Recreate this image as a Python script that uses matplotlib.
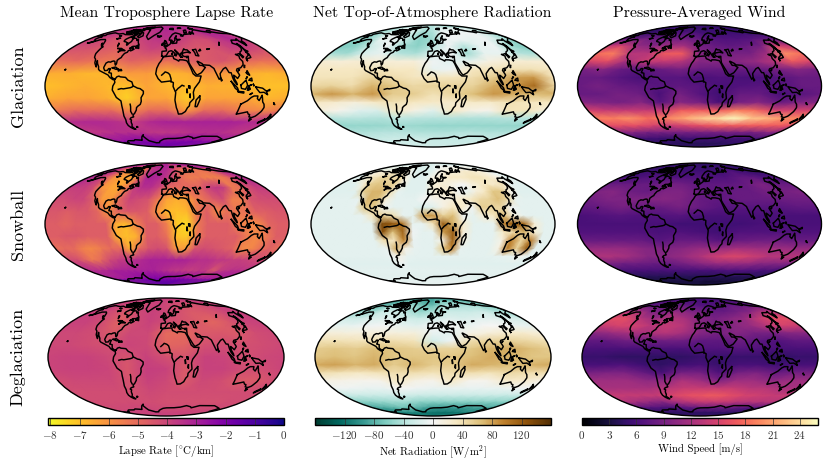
#!/usr/bin/env python3
"""Nine Mollweide panels: lapse rate, net radiation and wind for three climate states."""

import numpy as np
import matplotlib
matplotlib.use('Agg')
import matplotlib.pyplot as plt
from matplotlib.cm import ScalarMappable
from matplotlib.colors import Normalize

plt.rcParams['font.family'] = ['cmr10', 'DejaVu Serif']
plt.rcParams['mathtext.fontset'] = 'cm'
plt.rcParams['axes.unicode_minus'] = False

COL_TITLES = ['Mean Troposphere Lapse Rate', 'Net Top-of-Atmosphere Radiation', 'Pressure-Averaged Wind']
ROW_TITLES = ['Glaciation', 'Snowball', 'Deglaciation']
CBAR_LABELS = [r'Lapse Rate [$^{\circ}$C/km]', r'Net Radiation [W/m$^2$]', 'Wind Speed [m/s]']
LAPSE_TICKS = [-8, -7, -6, -5, -4, -3, -2, -1, 0]
NET_TICKS = [-120, -80, -40, 0, 40, 80, 120]
WIND_TICKS = [0, 3, 6, 9, 12, 15, 18, 21, 24]

# Fields: rows run north to south, columns west to east, evenly spaced over the globe
GLAC_LAPSE = [
    [-3.2]*13,
    [-3.6, -3.6, -3.8, -4.0, -3.6, -3.4, -3.2, -3.4, -3.6, -3.4, -3.0, -3.2, -3.6],
    [-3.8, -4.0, -4.4, -4.6, -4.0, -3.6, -3.5, -3.8, -4.2, -4.2, -3.6, -3.2, -3.8],
    [-4.4, -4.4, -4.6, -4.8, -4.4, -4.0, -4.2, -4.4, -4.6, -4.4, -4.0, -4.0, -4.4],
    [-5.2, -5.0, -5.2, -5.4, -4.8, -5.0, -5.2, -4.8, -4.6, -4.4, -5.0, -5.2, -5.2],
    [-6.6, -6.6, -6.8, -6.8, -6.2, -6.2, -6.8, -6.6, -6.0, -6.2, -6.6, -6.8, -6.6],
    [-7.0, -6.8, -6.6, -6.8, -7.0, -6.4, -6.8, -6.9, -6.6, -6.7, -6.9, -7.0, -7.0],
    [-6.6, -6.4, -6.4, -6.6, -7.3, -6.4, -6.4, -7.2, -6.4, -6.4, -6.4, -6.8, -6.6],
    [-5.4, -5.0, -5.0, -5.0, -5.8, -5.0, -5.0, -6.2, -5.0, -5.0, -5.6, -5.8, -5.4],
    [-3.4, -3.2, -3.2, -3.4, -3.8, -3.2, -3.0, -3.0, -3.0, -3.0, -3.0, -3.2, -3.4],
    [-3.6, -3.6, -3.4, -3.4, -3.4, -3.6, -3.6, -3.6, -3.4, -3.4, -3.4, -3.6, -3.6],
    [-2.6, -2.6, -2.4, -2.2, -2.2, -2.4, -2.2, -2.2, -2.2, -2.2, -2.4, -2.6, -2.6],
    [-1.4]*13,
]
SNOW_LAPSE = [
    [-3.0]*25,
    [-3.2, -3.4, -4.2, -5.0, -5.5, -6.0, -6.0, -5.5, -4.0, -3.6, -3.4, -3.2, -3.2, -3.6, -4.5, -5.0, -5.0, -5.0, -5.2, -5.2, -5.0, -4.6, -4.0, -3.5, -3.2],
    [-3.0, -3.4, -3.8, -4.8, -6.0, -6.3, -6.5, -6.2, -4.5, -3.0, -3.0, -3.2, -3.6, -4.5, -5.0, -5.4, -5.5, -5.4, -5.6, -5.6, -5.5, -5.2, -4.2, -3.6, -3.0],
    [-3.8, -3.8, -3.8, -4.2, -6.0, -6.4, -6.5, -5.5, -3.8, -3.4, -3.4, -4.0, -5.0, -5.0, -5.0, -4.8, -4.8, -4.0, -3.6, -3.8, -5.4, -5.2, -4.2, -3.8, -3.8],
    [-4.2, -4.2, -4.0, -4.0, -4.6, -6.2, -6.2, -4.8, -4.0, -4.2, -4.4, -5.4, -6.4, -6.6, -6.4, -5.6, -5.2, -4.6, -4.2, -5.6, -5.6, -4.4, -4.2, -4.2, -4.2],
    [-4.5, -4.5, -4.7, -4.5, -4.5, -4.9, -6.0, -4.9, -4.5, -4.5, -4.7, -6.0, -6.8, -7.0, -6.8, -5.4, -4.7, -5.8, -5.2, -5.4, -5.2, -4.7, -4.7, -4.5, -4.5],
    [-4.7, -4.7, -4.9, -4.7, -4.7, -4.7, -4.7, -6.6, -6.8, -5.6, -4.7, -4.7, -5.6, -7.2, -7.5, -5.4, -4.7, -4.7, -4.7, -5.6, -5.8, -5.8, -4.9, -4.7, -4.7],
    [-4.7, -4.7, -4.5, -4.5, -4.7, -4.7, -4.7, -6.6, -7.0, -6.6, -4.7, -4.7, -5.2, -7.0, -7.2, -5.4, -4.7, -4.7, -4.7, -4.7, -5.4, -5.8, -5.4, -4.7, -4.7],
    [-5.2, -5.0, -5.0, -5.6, -5.8, -5.4, -5.0, -5.0, -6.6, -5.0, -4.4, -4.2, -4.4, -6.2, -6.2, -4.4, -4.2, -4.4, -4.6, -4.8, -5.8, -5.8, -5.2, -4.8, -5.2],
    [-4.2, -4.2, -4.8, -5.4, -5.0, -4.2, -3.8, -3.6, -3.4, -3.2, -3.0, -3.0, -3.0, -3.0, -3.0, -3.2, -3.4, -3.4, -3.6, -3.6, -3.8, -3.8, -4.0, -4.2, -4.2],
    [-3.4, -3.4, -3.4, -3.2, -3.0, -3.0, -3.0, -3.0, -3.0, -3.0, -3.0, -3.2, -3.4, -3.6, -3.6, -3.8, -3.8, -3.6, -3.8, -4.6, -3.8, -3.6, -3.4, -3.4, -3.4],
    [-2.8, -2.8, -2.8, -2.8, -2.6, -2.6, -2.4, -2.2, -2.2, -2.0, -2.0, -2.0, -2.0, -2.0, -2.0, -2.0, -2.2, -2.4, -2.4, -2.6, -2.6, -2.8, -2.8, -2.8, -2.8],
    [-1.0]*25,
]
DEGL_LAPSE = [
    [-3.8]*13,
    [-3.9, -4.0, -4.1, -4.3, -4.0, -3.9, -4.1, -4.2, -4.3, -4.3, -4.2, -4.0, -3.9],
    [-3.8, -4.0, -4.3, -4.6, -4.1, -3.9, -4.1, -4.3, -4.6, -4.5, -4.3, -3.9, -3.8],
    [-3.9, -3.9, -4.2, -4.8, -4.2, -3.9, -4.2, -4.4, -4.6, -4.9, -4.5, -4.0, -3.9],
    [-4.1, -4.1, -4.2, -4.6, -4.1, -4.1, -5.0, -5.0, -4.6, -4.5, -4.6, -4.2, -4.1],
    [-4.1, -4.1, -4.2, -4.3, -4.0, -4.1, -4.9, -4.8, -4.3, -4.2, -4.3, -4.2, -4.1],
    [-4.0, -3.9, -3.9, -4.1, -4.4, -3.9, -4.3, -4.4, -3.9, -4.0, -4.3, -4.1, -4.0],
    [-4.0, -3.9, -3.9, -4.0, -4.5, -3.8, -3.9, -4.6, -3.9, -3.9, -4.2, -4.2, -4.0],
    [-4.2, -4.1, -4.1, -4.1, -4.4, -3.9, -4.1, -4.6, -4.1, -4.2, -4.6, -4.6, -4.2],
    [-4.2, -4.2, -4.2, -4.2, -4.3, -4.1, -4.2, -4.2, -4.2, -4.2, -4.2, -4.2, -4.2],
    [-4.2, -4.2, -4.2, -4.2, -4.2, -4.2, -4.3, -4.3, -4.3, -4.3, -4.3, -4.2, -4.2],
    [-4.2, -4.1, -4.1, -4.0, -4.0, -4.1, -4.1, -4.1, -4.1, -4.1, -4.1, -4.1, -4.2],
    [-3.8]*13,
]
GLAC_NET = [
    [-45]*13,
    [-45, -40, -15, -10, -25, -40, -40, -15, -15, -15, -15, -25, -45],
    [-50, -45, -10, -5, -30, -55, -45, -5, -5, -5, -5, -20, -50],
    [-60, -60, -10, -5, -35, -60, -50, -5, -5, -10, -5, -30, -60],
    [-65, -60, -30, -5, -50, -60, -40, -5, -40, -10, -5, -50, -65],
    [-45, -50, -20, -10, -40, -45, -20, -5, -50, -10, -10, -40, -45],
    [22, 18, 22, 18, 18, 18, -5, -15, -10, 12, 22, 22, 22],
    [32, 32, 32, 35, 32, 32, -10, -5, 32, 35, 38, 38, 32],
    [36, 36, 36, 50, 42, 34, 34, 34, 42, 55, 80, 85, 36],
    [45, 50, 42, 70, 60, 45, 50, 50, 50, 75, 85, 110, 45],
    [70, 85, 70, 85, 55, 55, 38, 48, 65, 85, 75, 65, 70],
    [32, 24, 15, 28, 38, 32, 28, 25, 28, 28, 38, 32, 32],
    [15, 5, -15, -20, 30, 10, -15, 30, 10, 5, 35, 35, 15],
    [-40, -38, -40, -42, -35, -38, -40, -40, -42, -42, -40, -40, -40],
    [-55, -55, -55, -52, -50, -52, -55, -55, -55, -55, -55, -55, -55],
    [-42, -42, -40, -38, -40, -42, -42, -42, -40, -40, -42, -42, -42],
    [-32, -32, -30, -30, -30, -30, -32, -32, -32, -32, -32, -32, -32],
    [-28, -28, -26, -26, -26, -26, -30, -30, -30, -28, -28, -28, -28],
    [-26]*13,
]
SNOW_NET = [
    [-18]*25,
    [-18, -18, -18, -18, -15, -10, -10, -15, -20, -20, -20, -18, -15, -10, -5, -5, -5, -5, -5, -5, -5, -5, -8, -12, -18],
    [-15, 10, 20, 15, 15, 25, 25, 20, -10, -15, -18, -18, -15, 5, 15, 15, 15, 20, 25, 25, 20, 20, 10, -5, -15],
    [-15, -12, 25, 35, 45, 50, 40, 50, 10, -15, -15, -12, 10, 20, 25, 30, 30, 30, 35, 35, 30, 20, 10, -10, -15],
    [-15, -15, -15, 20, 55, 60, 55, 50, 15, -15, -15, -15, 20, 20, 15, 5, 0, 15, 25, 30, 25, 40, -10, -15, -15],
    [-15, -15, -15, -15, 55, 70, 70, 40, -10, -15, -15, -12, 15, 25, 25, -5, -10, 15, 30, 60, 60, 10, -15, -15, -15],
    [-12, -12, -12, -12, -10, 70, 65, 15, -12, -12, -12, 0, 5, 10, 15, 25, 30, 45, 50, 65, 45, -10, -12, -12, -12],
    [-12, -12, -12, -12, -10, 60, 55, -5, -12, -12, -12, -20, -15, 10, 30, 25, -5, 55, 50, 45, -5, -12, -12, -12, -12],
    [-12, -12, -12, -12, -12, -10, 35, 50, 40, -10, -12, 80, 85, 50, 65, -5, -12, 20, 30, 65, 15, -10, -12, -12, -12],
    [-12, -12, -12, -12, -12, -12, -12, 135, 125, 105, -10, -10, 35, 120, 70, 25, -12, -12, -10, 100, 125, 110, 20, -12, -12],
    [-12, -12, -12, -12, -12, -12, -12, 130, 60, 115, -5, -12, -10, 80, 120, 20, -12, -12, -12, 30, 45, 70, 25, -12, -12],
    [-12, -12, -12, -12, -12, -12, -12, 40, 30, 95, -8, -12, -12, 10, 115, 15, -12, -12, -12, 10, 95, 45, 100, -12, -12],
    [-12, -12, -12, -12, -12, -12, -12, -8, 75, 10, -10, -12, -12, 55, 95, -10, -12, -12, -12, 10, 100, 50, 120, -12, -12],
    [-12, -12, -12, -12, -12, -12, -12, -8, 10, -10, -12, -12, -12, -12, -12, -12, -12, -12, -12, -12, -10, -10, 5, -12, -12],
    [-14, -14, -14, -14, -14, -14, -14, -14, -5, -14, -14, -14, -14, -14, -14, -14, -14, -14, -14, -14, -14, -14, -14, -14, -14],
    [-12]*25,
    [-13]*25,
    [-10]*25,
    [-12]*25,
]
DEGL_NET = [
    [-90]*13,
    [-85, -88, -80, -75, -80, -90, -90, -70, -70, -70, -72, -80, -85],
    [-65, -68, -45, -40, -50, -70, -70, -45, -40, -42, -42, -55, -65],
    [-50, -50, -30, -25, -40, -55, -45, -30, -30, -30, -25, -40, -50],
    [-25, -28, -18, -15, -22, -30, -22, -15, -20, -15, -12, -20, -25],
    [-10, -10, -5, -2, -10, -15, -5, 0, -10, 0, 0, -8, -10],
    [18, 15, 15, 15, 15, 15, -8, -15, 8, 15, 25, 25, 18],
    [38, 38, 35, 40, 40, 35, -25, -5, 40, 50, 50, 45, 38],
    [55, 60, 55, 65, 60, 55, 50, 50, 60, 70, 75, 65, 55],
    [60, 65, 60, 70, 60, 60, 60, 60, 65, 75, 70, 60, 60],
    [75, 80, 70, 75, 55, 70, 55, 55, 75, 70, 65, 70, 75],
    [40, 35, 30, 35, 40, 40, 35, 40, 40, 35, 45, 40, 40],
    [10, 8, 5, 5, 30, 10, 5, 30, 5, 5, 25, 25, 10],
    [-5, -5, -8, -8, 0, -5, -8, -8, -8, -8, -8, -5, -5],
    [-32, -30, -30, -28, -25, -30, -30, -30, -30, -30, -30, -32, -32],
    [-60, -58, -55, -50, -50, -58, -60, -60, -60, -60, -60, -60, -60],
    [-90, -85, -80, -70, -75, -85, -95, -95, -95, -95, -90, -90, -90],
    [-110, -110, -105, -105, -110, -115, -118, -120, -120, -118, -115, -110, -110],
    [-120]*13,
]
GLAC_WIND = [
    [5]*13,
    [4.5, 4.5, 5, 5.5, 5, 4.5, 5, 5, 5, 5, 5, 4.5, 4.5],
    [5, 5, 6, 7, 6.5, 7, 6, 5.5, 5.5, 5.5, 5.5, 5, 5],
    [8, 9, 9, 8, 9, 9, 8, 7, 6.5, 6.5, 7, 8, 8],
    [14, 15, 11, 10, 12, 12, 9, 8, 7.5, 8, 9, 15, 14],
    [18, 19, 13, 13, 17, 17, 10, 8.5, 9, 9, 12, 20, 18],
    [15, 16, 12, 14, 14, 13, 10, 10, 10, 11, 13, 17, 15],
    [9, 10, 8, 7, 8, 9, 8, 8, 8, 8, 9, 10, 9],
    [8, 8, 7, 6, 7, 7, 6, 6.5, 6, 6, 7, 8, 8],
    [8, 9, 8, 7.5, 7, 7.5, 7, 6, 6.5, 7, 6.5, 8, 8],
    [8, 8, 9, 8.5, 6, 9, 7, 5.5, 8, 8, 6, 7, 8],
    [10, 9.5, 9, 10, 7, 10, 9, 6, 9, 10, 8, 9.5, 10],
    [15, 14, 14, 14, 14, 17, 17, 17, 19, 18, 15, 15, 15],
    [19, 19, 20, 18, 19, 21, 23, 24, 26, 23, 22, 20, 19],
    [16, 16, 16, 15, 14, 15, 16, 17, 17, 17, 17, 17, 16],
    [10, 10, 9, 9, 9, 9, 9, 9, 9, 9, 9, 10, 10],
    [5.5, 5.5, 5.5, 5, 5, 5.5, 5.5, 5.5, 5.5, 5.5, 5.5, 5.5, 5.5],
    [4.5, 4.5, 4.5, 4, 4, 4, 4, 4, 4, 4, 4.5, 4.5, 4.5],
    [4.5]*13,
]
SNOW_WIND = [
    [4.5]*13,
    [4.5, 4.5, 5, 5, 5, 5, 5, 4.5, 5, 5, 5, 4.5, 4.5],
    [5, 5.5, 5.5, 5.5, 5.5, 5.5, 5.5, 5.5, 5.5, 6.5, 5.5, 5, 5],
    [6, 6, 6.5, 6.5, 6.5, 6.5, 6.5, 6.5, 6.5, 7.5, 7.5, 6.5, 6],
    [8, 8, 8, 8, 9, 8.5, 7.5, 7.5, 7.5, 8, 9.5, 8, 8],
    [9.5, 10, 8.5, 8, 9.5, 9.5, 8, 7.5, 8, 8, 9, 9, 9.5],
    [8.5, 9.5, 9.5, 9.5, 10, 9.5, 8, 7.5, 8, 8, 8, 8.5, 8.5],
    [7.5, 8, 9, 8, 8, 9, 8, 7, 7, 7, 7, 7.5, 7.5],
    [6, 6.5, 7, 6.5, 6.5, 7, 6, 6, 6, 6, 6, 6, 6],
    [6, 6, 6, 6, 6, 5.5, 5.5, 5.5, 5.5, 6, 6, 6, 6],
    [6.5, 6.5, 6.5, 6.5, 6, 6.5, 6, 5.5, 6.5, 6.5, 6.5, 6.5, 6.5],
    [8, 8, 8, 8, 7, 8, 8, 7, 8, 8.5, 8.5, 8, 8],
    [11, 11, 11, 10, 9.5, 10, 11, 11, 12, 11.5, 11.5, 11, 11],
    [12.5, 12.5, 11.5, 10, 10, 11, 12.5, 14.5, 15.5, 14.5, 13, 13, 12.5],
    [9.5, 8.5, 8.5, 8, 8, 9, 10, 11, 11, 11, 10, 10, 9.5],
    [6, 6, 6, 6, 6, 6, 6, 6, 6.5, 6.5, 6.5, 6, 6],
    [4, 4, 4, 4, 4, 4, 4, 4, 4, 4, 4, 4, 4],
    [3, 3, 3, 3, 3, 3, 3, 2.5, 2.5, 2.5, 2.5, 3, 3],
    [3]*13,
]
DEGL_WIND = [
    [6]*13,
    [6, 6, 6.5, 6.5, 6, 6, 6, 6, 6, 6, 6, 6, 6],
    [8, 8, 8, 8, 8.5, 7.5, 7, 6.5, 7, 8, 8, 8, 8],
    [13, 13, 10, 9, 11, 10, 9, 8, 8, 9, 10, 13, 13],
    [16, 16, 13, 11, 13, 12, 10, 9, 10, 11, 14, 16, 16],
    [14, 15, 15, 13, 14, 13, 10, 9, 10, 11, 13, 15, 14],
    [10, 11, 12, 12, 13, 12, 10, 9, 10, 9, 9, 10, 10],
    [7.5, 7.5, 8.5, 8.5, 8.5, 8.5, 7.5, 7.5, 8.5, 7.5, 6.5, 7.5, 7.5],
    [6, 6, 6, 6, 6, 6, 6.5, 6.5, 7, 6.5, 6, 6, 6],
    [5, 5, 4.5, 4.5, 4.5, 4.5, 5, 5, 5, 5, 4.5, 5, 5],
    [6, 6, 6.5, 5.5, 4.5, 5.5, 6, 5, 6, 6, 5.5, 6, 6],
    [9, 9.5, 9.5, 8, 6, 9, 9, 6.5, 9, 9.5, 8, 9, 9],
    [11.5, 11.5, 11.5, 10.5, 10.5, 12.5, 11.5, 9.5, 11.5, 11.5, 10.5, 11.5, 11.5],
    [12, 12, 12, 12, 13, 14, 14, 14, 14, 13, 13, 12, 12],
    [14, 14, 14, 14, 15, 16, 16.5, 17, 16, 15, 14.5, 14, 14],
    [13, 12, 11, 10, 12, 13, 14, 14, 14, 13, 13, 13, 13],
    [7, 7, 6.5, 6, 7, 7.5, 8, 8, 8, 8, 7.5, 7, 7],
    [4.5, 4.5, 4.5, 4.5, 4.5, 4.5, 4.5, 4.5, 4.5, 4.5, 4.5, 4.5, 4.5],
    [4.5]*13,
]

# Coastlines as (lon, lat) in degrees
COAST_NAMERICA = [(-168, 65.7), (-164, 66.5), (-161, 66.3), (-163, 67), (-166, 68.5), (-162, 70), (-156, 71.2), (-150, 70.5), (-141, 69.7), (-135, 69), (-128, 70), (-124, 69.5), (-115, 68), (-108, 67.8), (-102, 67.8), (-96, 68), (-94, 72), (-91, 69.5), (-88, 68), (-85, 69.5), (-82, 69), (-81, 67), (-86, 66.2), (-87, 65), (-90, 63.8), (-94, 61), (-94.5, 58.8), (-92.5, 57), (-88, 56.5), (-85, 55.5), (-82, 55), (-82, 53), (-80, 51.5), (-79, 52), (-79, 54), (-77, 56), (-76.5, 57.5), (-78, 59), (-77.5, 60.5), (-78, 62), (-73, 62), (-70, 61), (-67, 58.5), (-65, 60), (-62, 57), (-60, 55), (-56, 52.5), (-60, 50), (-66, 50), (-70, 47), (-65, 49), (-65, 47), (-61, 46), (-63, 44.7), (-66, 43.7), (-66, 45), (-67, 45), (-70, 44), (-70, 42), (-74, 40.5), (-75.5, 38), (-76, 37), (-76, 35), (-78, 34), (-81, 31.5), (-80, 27), (-81, 25.2), (-82.5, 27), (-83, 28.5), (-84, 30), (-86, 30.5), (-89, 30), (-90, 29), (-94, 29.5), (-97, 28), (-97.5, 25), (-98, 22), (-95, 18.5), (-91, 18.7), (-90, 21), (-87, 21), (-88, 16), (-84, 15.5), (-83, 11), (-80, 9), (-77, 8.5), (-78, 7.5), (-80, 7.5), (-85, 10), (-88, 13), (-92, 14.5), (-96, 16), (-102, 18), (-105, 20), (-106, 23), (-110, 27), (-113, 31), (-112, 28), (-110, 23), (-112, 25), (-115, 28), (-117, 32.5), (-121, 35), (-124, 40), (-124, 48), (-123, 49), (-128, 51), (-130, 54), (-135, 58), (-140, 60), (-145, 60), (-150, 60), (-152, 59), (-158, 56), (-165, 54.5), (-160, 56), (-158, 58), (-162, 59), (-165, 61), (-165, 63), (-161, 64), (-165, 64.5), (-168, 65.7)]
COAST_SAMERICA = [(-77, 8.5), (-75, 11), (-72, 12), (-70, 11), (-62, 10.5), (-58, 7), (-52, 5), (-50, 0), (-47, -1), (-44, -2.5), (-40, -3), (-35, -6), (-35, -9), (-39, -14), (-39, -18), (-41, -22), (-45, -24), (-48, -26), (-49, -29), (-54, -34), (-57, -35), (-57, -38), (-62, -39), (-65, -41), (-63, -42), (-65, -44), (-66, -46), (-66, -48), (-69, -51), (-68, -53), (-65, -55), (-68, -55), (-72, -53), (-75, -50), (-75, -46), (-73, -42), (-73, -37), (-71, -30), (-70, -18), (-76, -14), (-78, -10), (-81, -5), (-80, 0), (-77, 4), (-78, 7), (-77, 8.5)]
COAST_AFRICA = [(-6, 35.8), (1, 36.5), (10, 37), (11, 33.5), (15, 32.3), (19, 30.3), (20, 32), (25, 32), (32, 31), (34, 28), (37, 21), (39, 15), (43, 12), (51, 12), (48, 5), (41, -2), (39, -7), (40.5, -15), (35, -20), (35, -24), (32.5, -26), (30, -31), (25, -34), (19, -34.5), (17, -30), (15, -27), (12, -17), (13, -8), (9, -1), (9.5, 4), (5, 6), (-4, 5), (-8, 4.5), (-13, 8.5), (-17, 14.5), (-16, 21), (-13, 27), (-10, 30), (-6, 35.8)]
COAST_EURASIA = [(-9, 37), (-9, 43), (-1, 43.5), (-1, 46), (-4, 48), (2, 51), (8, 54), (8, 57), (10.5, 57), (11, 54), (20, 54.5), (21, 57), (23, 59), (30, 60), (22, 60), (21, 63), (24, 66), (18, 62), (18, 59), (13, 55.5), (11, 59), (5, 59), (6, 62), (14, 68), (20, 70), (25, 71), (32, 70), (40, 67.5), (35, 66), (40, 65), (45, 68), (54, 68.5), (60, 69), (68, 69), (68, 72), (72, 73), (75, 69), (80, 73), (88, 75), (100, 77), (113, 74), (125, 73), (130, 71), (140, 73), (150, 71), (160, 70), (170, 70), (180, 69), (180, 65), (178, 62), (170, 60), (163, 58), (162, 55), (157, 51), (156, 57), (160, 61), (155, 59), (143, 59), (135, 54.5), (141, 52), (140, 48), (135, 44), (130, 42.5), (127, 39.5), (129, 36), (126, 34.5), (126, 37), (125, 40), (121, 39), (118, 39), (122, 37), (120, 34), (122, 30), (120, 26), (114, 22), (108, 21), (106, 19), (109, 13), (105, 9), (103, 11), (100, 13), (100, 9), (103, 4), (103.5, 1.5), (100, 5), (98, 9), (97, 16), (94, 16), (91, 22.5), (87, 21), (80, 15), (80, 10), (77.5, 8), (73, 18), (72.5, 21), (67, 25), (57, 25.5), (56, 27), (50, 30), (48.5, 30), (51, 25), (55, 25), (56.5, 24), (59.5, 22.5), (52, 16), (45, 13), (43, 15), (39, 21), (35, 28), (35, 32), (36, 36.5), (30, 36), (27, 37), (26, 40), (29, 41), (35, 42), (41, 41), (37, 45), (33, 45), (31, 46.5), (28, 43), (26, 41), (23, 40), (24, 38), (22, 36.5), (19.5, 41), (14, 45), (18, 40), (16, 38), (12, 42), (8, 44), (3, 43), (0, 39), (-2, 37), (-6, 36), (-9, 37)]
COAST_AUSTRALIA = [(114, -22), (118, -20), (122, -18), (126, -14), (130, -12), (136, -12), (136, -15), (140, -17.5), (142, -11), (146, -19), (150, -22), (153, -26), (153, -31), (150, -37), (146, -39), (140, -38), (138, -35), (135, -34.5), (131, -31.5), (124, -33), (115, -34.5), (114, -26), (114, -22)]
COAST_ANTARCTICA = [(-180, -78), (-160, -79), (-150, -77), (-130, -74), (-110, -74), (-100, -72), (-80, -73), (-75, -71), (-65, -66), (-58, -63.5), (-62, -66), (-61, -70), (-60, -74), (-45, -78), (-30, -78), (-25, -75), (-10, -71), (0, -70), (20, -70), (40, -69), (55, -66), (70, -68), (75, -70), (90, -66), (110, -66), (130, -66), (150, -69), (165, -71), (170, -77), (180, -78)]
COAST_ISLANDS = [
    [(-180, 69), (-170, 66), (-175, 65), (-180, 65)],
    [(-73, 78), (-60, 82), (-32, 83.5), (-18, 80), (-22, 72), (-32, 68), (-43, 60), (-52, 65), (-54, 70), (-60, 76), (-73, 78)],
    [(-80, 73), (-70, 71), (-62, 66), (-68, 62.5), (-75, 65), (-72, 68), (-85, 70), (-89, 73), (-80, 73)],
    [(-117, 70), (-105, 69), (-101, 72), (-115, 73), (-117, 70)],
    [(-90, 77), (-76, 78), (-62, 82.5), (-80, 83), (-95, 81), (-90, 77)],
    [(-125, 72), (-118, 72), (-118, 75), (-125, 74), (-125, 72)],
    [(-95, 75), (-80, 75), (-82, 76.5), (-95, 76.5), (-95, 75)],
    [(-87, 63.5), (-80, 64), (-85, 66), (-87, 63.5)],
    [(-95, 72), (-91, 74), (-95, 74), (-95, 72)],
    [(-117, 75.5), (-106, 75), (-108, 77), (-117, 75.5)],
    [(-102, 72), (-97, 71), (-97, 74), (-102, 73), (-102, 72)],
    [(-94, 78), (-88, 78), (-88, 81), (-95, 81), (-94, 78)],
    [(-105, 76), (-100, 75.5), (-99, 77), (-105, 76)],
    [(-122, 76), (-116, 76), (-118, 77.5), (-122, 76)],
    [(-82, 62.5), (-79, 62.5), (-81, 64), (-82, 62.5)],
    [(-78, 69.5), (-74, 69), (-76, 72), (-78, 69.5)],
    [(-133, 54), (-131, 53), (-132, 52.5), (-133, 54)],
    [(-128, 50.5), (-124, 49), (-125, 50.3), (-128, 50.5)],
    [(-59, 48), (-53, 47), (-56, 51.5), (-59, 48)],
    [(-84.5, 22), (-80, 23), (-74, 20), (-78, 20), (-84.5, 22)],
    [(-74, 18.5), (-69, 18.5), (-70, 20), (-74, 19.8), (-74, 18.5)],
    [(-5, 50), (1, 51), (0, 54), (-2, 57.5), (-5, 58.5), (-6, 56), (-3, 54), (-5, 52), (-5, 50)],
    [(-10, 52), (-6, 52), (-6, 55), (-10, 54), (-10, 52)],
    [(-24, 65.5), (-14, 65.5), (-18, 63.5), (-23, 64), (-24, 65.5)],
    [(12, 78), (24, 77), (28, 80), (15, 80), (12, 78)],
    [(52, 71), (57, 70.5), (68, 76.5), (58, 75.5), (52, 71)],
    [(48, 80), (62, 80), (60, 81.5), (48, 80)],
    [(95, 79), (105, 78.5), (100, 81), (95, 79)],
    [(138, 75), (150, 75), (145, 76), (138, 75)],
    [(179, 71), (-178, 71), (179, 71.5)],
    [(142, 46), (143.5, 50), (143, 54), (142, 52), (142, 46)],
    [(130.5, 31), (131.5, 33.5), (136, 34), (140, 35), (142, 40), (140.5, 41), (139, 38), (133, 35.5), (130.5, 33.5), (130.5, 31)],
    [(140, 42), (145, 43), (142, 45.5), (140, 42)],
    [(120, 22.5), (122, 25), (120.5, 25), (120, 22.5)],
    [(109, 18.5), (111, 19.5), (110, 20), (109, 18.5)],
    [(120, 16), (122, 18.5), (124, 13), (121, 14), (120, 16)],
    [(122, 7), (126, 6), (126, 9.5), (123, 8.5), (122, 7)],
    [(118, 9), (120, 11), (119, 11), (118, 9)],
    [(95, 5.5), (104, -2), (106, -6), (101, -3), (95, 5.5)],
    [(105, -6.5), (114, -7), (114, -8.5), (106, -7.5), (105, -6.5)],
    [(109, 1), (117, 7), (119, 1), (116, -4), (110, -3), (109, 1)],
    [(119, -5), (120, 0), (125, 1.5), (121, 0), (123, -4), (120, -3), (121, -5)],
    [(124, -10), (127, -8.5), (124, -9.5), (124, -10)],
    [(127.5, 2), (128.5, 1), (128, 0), (127.5, 2)],
    [(131, -1), (141, -2.5), (147, -6), (150, -10.5), (144, -7.5), (138, -8), (133, -4), (131, -1)],
    [(148, -6), (152, -4), (152, -5.5), (148, -6)],
    [(145, -41), (148, -41), (147, -43.5), (145, -41)],
    [(173, -35), (178, -38), (175, -41), (174, -38), (173, -35)],
    [(172, -41), (174, -42), (168, -46.5), (167, -45), (172, -41)],
    [(49, -12), (50, -16), (47, -25), (44, -25), (44, -17), (49, -12)],
    [(80, 9.5), (82, 7), (80.5, 6), (80, 9.5)],
    [(164, -20.5), (167, -22.5), (165, -22), (164, -20.5)],
    [(-156, 19.5), (-155, 20), (-155.5, 20.3), (-156, 19.5)],
    [(-60, -52), (-58, -52), (-59, -51), (-60, -52)],
    [(9, 39), (10, 41), (8.5, 40.5), (9, 39)],
    [(13, 38), (15.5, 37), (15, 38), (13, 38)],
    [(33, 35), (34, 35.5), (32.5, 35.2), (33, 35)],
    [(23.5, 35.3), (26, 35.2), (24.5, 35.5), (23.5, 35.3)],
]
LAKES_RIVERS = [
    [(47, 45), (53, 46), (53, 40), (54, 37), (49, 37.5), (49, 41), (47, 45)],
    [(58, 44), (61, 46), (61, 44), (58, 44)],
    [(74, 46), (79, 46.5), (74, 45.5), (74, 46)],
    [(104, 52), (110, 56), (109, 55.5), (104, 52)],
    [(-92, 47), (-85, 47), (-85, 45.5), (-87, 42), (-84, 44), (-80, 44), (-76, 44), (-82, 46), (-85, 46), (-92, 47)],
    [(-123, 66), (-118, 66), (-119, 65), (-123, 66)],
    [(-116, 61), (-110, 62), (-113, 62), (-116, 61)],
    [(-99, 54), (-96, 50), (-97, 53), (-99, 54)],
    [(32, 0), (34, 0), (34, -3), (32, -2.5), (32, 0)],
    [(29.5, -4), (30.5, -8), (29.5, -8), (29.5, -4)],
    [(34.5, -10), (35, -14), (34, -13), (34.5, -10)],
    [(-72, -4), (-68, -3), (-65, -3.5), (-61, -3), (-58, -2.5), (-55, -2.2), (-52, -1.5), (-50, 0)],
    [(-58, -34), (-59, -31), (-58, -28), (-57, -25), (-57, -22)],
    [(-8, 13), (-5, 15), (-3, 17), (1, 16), (4, 14), (6, 9), (6, 5)],
    [(13, -6), (16, -3), (18, -2), (22, 1), (25, 0)],
]

# Pixel boxes of the panels: left, top, right, bottom
ROW_Y = [(25, 147), (163, 285), (298, 416)]
COL_X = [(43, 291), (309, 557), (576, 823)]
COL_X_LOW = [(48, 284), (315, 551), (582, 818)]
FIG_W, FIG_H = 831, 462


def box(left, top, right, bottom):
    return [left / FIG_W, 1 - bottom / FIG_H, (right - left) / FIG_W, (bottom - top) / FIG_H]


def draw_field(ax, field, cmap, norm):
    data = np.array(field, dtype=float)
    n_lat, n_lon = data.shape
    lats = np.radians(np.linspace(90, -90, n_lat))
    lons = np.radians(np.linspace(-180, 180, n_lon))
    step = lons[1] - lons[0]
    # Wrap one column over each side so the mesh reaches past the rim of the ellipse
    lons = np.r_[lons[0] - step, lons, lons[-1] + step]
    data = np.c_[data[:, -2], data, data[:, 1]]
    ax.set_facecolor(plt.get_cmap(cmap)(norm(data[[0, -1]].mean())))
    ax.pcolormesh(lons, lats, data, cmap=cmap, norm=norm, shading='gouraud', rasterized=True)


def draw_coast(ax):
    shapes = [COAST_NAMERICA, COAST_SAMERICA, COAST_AFRICA, COAST_EURASIA, COAST_AUSTRALIA,
              COAST_ANTARCTICA] + COAST_ISLANDS + LAKES_RIVERS
    for shape in shapes:
        pts = np.radians(np.array(shape, dtype=float))
        # Keep a segment that crosses the date line from streaking over the map
        if np.ptp(pts[:, 0]) > np.pi and shape is not COAST_ANTARCTICA and shape is not COAST_EURASIA:
            continue
        ax.plot(pts[:, 0], pts[:, 1], color='black', linewidth=1.05, solid_joinstyle='round')


fig = plt.figure(figsize=(FIG_W / 100, FIG_H / 100), dpi=100)

fields = [[GLAC_LAPSE, GLAC_NET, GLAC_WIND], [SNOW_LAPSE, SNOW_NET, SNOW_WIND], [DEGL_LAPSE, DEGL_NET, DEGL_WIND]]
cmaps = ['plasma_r', 'BrBG_r', 'magma']
norms = [Normalize(-8.08, 0), Normalize(-160, 160), Normalize(0, 26)]
ticks = [LAPSE_TICKS, NET_TICKS, WIND_TICKS]

for r in range(3):
    for c in range(3):
        x0, x1 = COL_X_LOW[c] if r == 2 else COL_X[c]
        y0, y1 = ROW_Y[r]
        ax = fig.add_axes(box(x0, y0, x1, y1), projection='mollweide')
        draw_field(ax, fields[r][c], cmaps[c], norms[c])
        draw_coast(ax)
        ax.grid(False)
        ax.set_xticklabels([])
        ax.set_yticklabels([])
        ax.tick_params(length=0)
        ax.spines['geo'].set_linewidth(1.0)

for c, title in enumerate(COL_TITLES):
    fig.text((sum(COL_X[c]) / 2 - 0.5) / FIG_W, 1 - 13 / FIG_H, title, ha='center', va='center', fontsize=11.4)
for r, name in enumerate(ROW_TITLES):
    fig.text(18 / FIG_W, 1 - sum(ROW_Y[r]) / 2 / FIG_H, name, rotation=90, ha='center', va='center', fontsize=13)

for c in range(3):
    x0, x1 = COL_X_LOW[c]
    cax = fig.add_axes(box(x0, 418, x1, 425))
    sm = ScalarMappable(norm=norms[c], cmap=cmaps[c])
    cb = fig.colorbar(sm, cax=cax, orientation='horizontal')
    cb.set_ticks(ticks[c])
    cb.set_ticklabels([f'${t}$' for t in ticks[c]])
    cb.ax.tick_params(direction='in', length=5, width=0.5, labelsize=8, pad=3, color='#333333', labelcolor='#333333')
    cb.ax.minorticks_off()
    cb.outline.set_linewidth(1.0)
    cb.set_label(CBAR_LABELS[c], fontsize=7.8, labelpad=1.5)

fig.savefig('out.png', dpi=100)
